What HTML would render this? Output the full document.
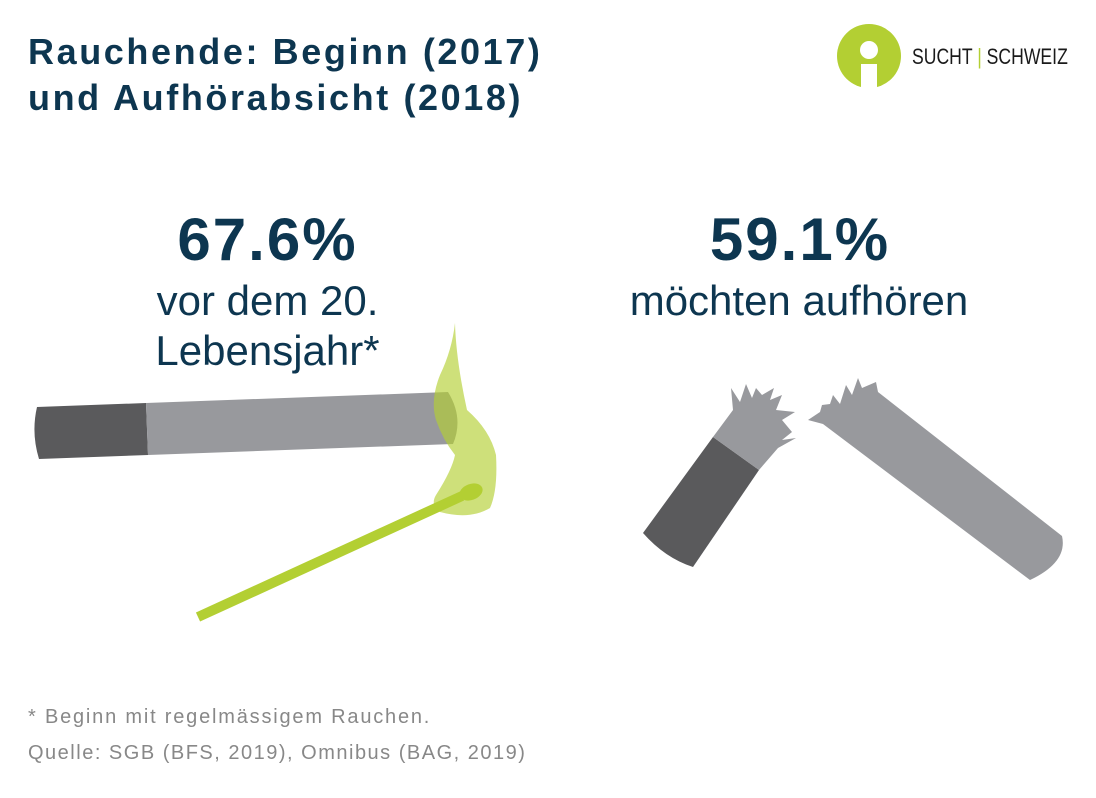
<!DOCTYPE html>
<html><head><meta charset="utf-8"><style>
body{margin:0;width:1096px;height:798px;background:#fff;overflow:hidden;position:relative;font-family:"Liberation Sans",sans-serif}
.t{position:absolute;white-space:nowrap}
</style></head><body>
<div class="t" style="left:28px;top:29px;font-size:36px;font-weight:bold;color:#0d3650;line-height:46px;letter-spacing:2.6px">Rauchende: Beginn (2017)<br>und Aufhörabsicht (2018)</div>
<div class="t" style="left:80px;top:205px;width:375px;text-align:center;font-size:60px;font-weight:bold;color:#0d3650;letter-spacing:2px">67.6%</div>
<div class="t" style="left:65px;top:276px;width:405px;text-align:center;font-size:42px;color:#0d3650;line-height:50px">vor dem 20.<br>Lebensjahr*</div>
<div class="t" style="left:600px;top:205px;width:400px;text-align:center;font-size:60px;font-weight:bold;color:#0d3650;letter-spacing:2px">59.1%</div>
<div class="t" style="left:580px;top:276px;width:438px;text-align:center;font-size:42px;color:#0d3650;line-height:50px">möchten aufhören</div>
<div class="t" style="left:28px;top:706px;font-size:20px;color:#888;letter-spacing:1.8px">* Beginn mit regelmässigem Rauchen.</div>
<div class="t" style="left:28px;top:742px;font-size:20px;color:#888;letter-spacing:1.5px">Quelle: SGB (BFS, 2019), Omnibus (BAG, 2019)</div>
<div class="t" style="left:912px;top:44px;font-size:22px;color:#1a1a1a;transform:scaleX(0.8);transform-origin:0 0">SUCHT <span style="color:#b3cf33">|</span> SCHWEIZ</div>
<svg width="1096" height="798" style="position:absolute;left:0;top:0">
<circle cx="869" cy="56" r="32" fill="#b3cf33"/>
<circle cx="869" cy="50" r="9" fill="#fff"/>
<rect x="861" y="64" width="16" height="24" fill="#fff"/>
<path d="M37 407 L146 403 L148 455 L39 459 Q31 433 37 407Z" fill="#5a5a5c"/>
<path d="M146 403 L448 392 Q464 418 453 444 L148 455Z" fill="#98999d"/>
<path d="M455 323 Q456 360 467 410 Q490 430 496 455 Q498 490 490 508 Q470 520 440 512 Q430 505 436 495 Q452 470 455 455 Q443 440 436 420 Q430 400 440 375 Q452 350 455 323Z" fill="#b3cf33" opacity="0.65"/>
<line x1="198" y1="617" x2="462" y2="496" stroke="#b3cf33" stroke-width="10"/>
<ellipse cx="471" cy="492" rx="12" ry="8" transform="rotate(-20 471 492)" fill="#b3cf33"/>
<path d="M643 533 L713 437 L759 470 L693 567 Q665 558 643 533Z" fill="#5a5a5c"/>
<path d="M713 437 L733 410 L731 388 L740 402 L746 384 L752 398 L756 388 L762 395 L774 388 L770 400 L782 395 L776 410 L795 412 L782 420 L792 432 L782 440 L796 438 L778 448 L759 470Z" fill="#98999d"/>
<path d="M822 405 L830 404 L833 395 L840 404 L846 385 L852 395 L858 378 L862 388 L876 382 L878 392 L1062 536 Q1068 562 1030 580 L823 424 L808 420 L820 412Z" fill="#98999d"/>
</svg>
</body></html>
